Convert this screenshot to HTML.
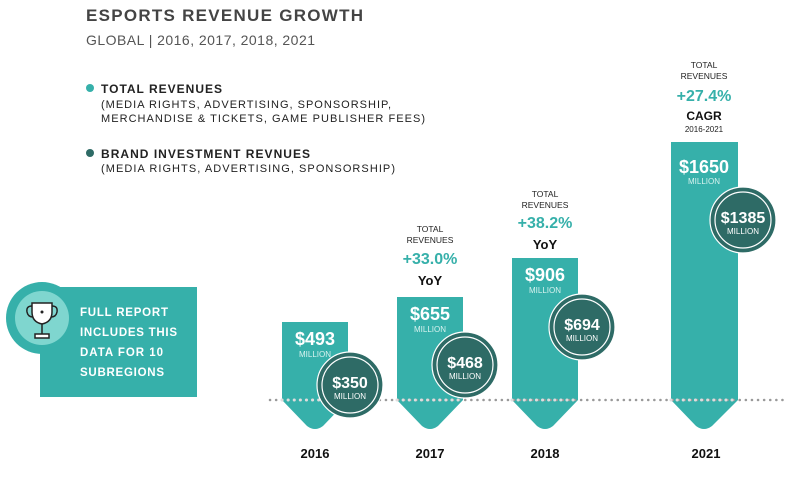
<!DOCTYPE html>
<html><head><meta charset="utf-8"><style>
body{margin:0;background:#fff;width:786px;height:472px;overflow:hidden}
svg{font-family:"Liberation Sans",sans-serif}
</style></head><body>
<svg width="786" height="472" viewBox="0 0 786 472">
<text x="86" y="21" font-size="17" font-weight="bold" fill="#444" textLength="277">ESPORTS REVENUE GROWTH</text>
<text x="86" y="45" font-size="14" fill="#555" textLength="229">GLOBAL | 2016, 2017, 2018, 2021</text>
<circle cx="90" cy="88" r="4" fill="#36b0aa"/>
<text x="101" y="93" font-size="12" font-weight="bold" fill="#222" textLength="121">TOTAL REVENUES</text>
<text x="101" y="108" font-size="11" fill="#222" textLength="290">(MEDIA RIGHTS, ADVERTISING, SPONSORSHIP,</text>
<text x="101" y="122" font-size="11" fill="#222" textLength="324">MERCHANDISE &amp; TICKETS, GAME PUBLISHER FEES)</text>
<circle cx="90" cy="153" r="4" fill="#2e6b66"/>
<text x="101" y="158" font-size="12" font-weight="bold" fill="#222" textLength="209">BRAND INVESTMENT REVNUES</text>
<text x="101" y="172" font-size="11" fill="#222" textLength="294">(MEDIA RIGHTS, ADVERTISING, SPONSORSHIP)</text>

<!-- card -->
<rect x="40" y="287" width="157" height="110" fill="#36b0aa"/>
<circle cx="42" cy="318" r="36" fill="#36b0aa"/>
<circle cx="42" cy="318" r="27" fill="#7fd6cf"/>
<path d="M32 303 h20 v9 q0 10 -10 12 q-10 -2 -10 -12z" fill="#fff" stroke="#222" stroke-width="1.5"/>
<path d="M32 306 q-6 0 -5 6 q1 5 6 5 M52 306 q6 0 5 6 q-1 5 -6 5" fill="none" stroke="#222" stroke-width="1.5"/>
<line x1="42" y1="324" x2="42" y2="334" stroke="#222" stroke-width="1.5"/>
<rect x="35" y="334" width="14" height="4" fill="#fff" stroke="#222" stroke-width="1.5"/>
<circle cx="42" cy="312" r="1.5" fill="#222"/>
<g font-size="11.5" font-weight="bold" fill="#fff">
<text x="80" y="316" textLength="88">FULL REPORT</text>
<text x="80" y="336" textLength="97">INCLUDES THIS</text>
<text x="80" y="356" textLength="83">DATA FOR 10</text>
<text x="80" y="376" textLength="84">SUBREGIONS</text>
</g>

<!-- bars -->
<g fill="#36b0aa">
<path d="M282 322 H348 V400 L323 426 Q315 432 307 426 L282 400Z"/>
<path d="M397 297 H463 V400 L438 426 Q430 432 422 426 L397 400Z"/>
<path d="M512 258 H578 V400 L553 426 Q545 432 537 426 L512 400Z"/>
<path d="M671 142 H738 V400 L712 426 Q704 432 696 426 L671 400Z"/>
</g>
<line x1="270" y1="400" x2="786" y2="400" stroke="#999" stroke-width="2.5" stroke-dasharray="0.1 6" stroke-linecap="round"/>
<line x1="282" y1="400" x2="348" y2="400" stroke="#ddd" stroke-width="3" stroke-dasharray="0.1 6" stroke-linecap="round"/>
<line x1="397" y1="400" x2="463" y2="400" stroke="#ddd" stroke-width="3" stroke-dasharray="0.1 6" stroke-linecap="round"/>
<line x1="512" y1="400" x2="578" y2="400" stroke="#ddd" stroke-width="3" stroke-dasharray="0.1 6" stroke-linecap="round"/>
<line x1="671" y1="400" x2="738" y2="400" stroke="#ddd" stroke-width="3" stroke-dasharray="0.1 6" stroke-linecap="round"/>

<g text-anchor="middle" fill="#fff">
<text x="315" y="345" font-size="18" font-weight="bold">$493</text><text x="315" y="357" font-size="8" fill="#d8f2ef">MILLION</text>
<text x="430" y="320" font-size="18" font-weight="bold">$655</text><text x="430" y="332" font-size="8" fill="#d8f2ef">MILLION</text>
<text x="545" y="281" font-size="18" font-weight="bold">$906</text><text x="545" y="293" font-size="8" fill="#d8f2ef">MILLION</text>
<text x="704" y="173" font-size="18" font-weight="bold">$1650</text><text x="704" y="184" font-size="8" fill="#d8f2ef">MILLION</text>
</g>

<g fill="#2e6b66" stroke="#fff" stroke-width="1.2">
<circle cx="350" cy="385" r="33"/><circle cx="350" cy="385" r="28" fill="none"/>
<circle cx="465" cy="365" r="33"/><circle cx="465" cy="365" r="28" fill="none"/>
<circle cx="582" cy="327" r="33"/><circle cx="582" cy="327" r="28" fill="none"/>
<circle cx="743" cy="220" r="33"/><circle cx="743" cy="220" r="28" fill="none"/>
</g>
<g text-anchor="middle" fill="#fff">
<text x="350" y="388" font-size="16" font-weight="bold">$350</text><text x="350" y="399" font-size="8">MILLION</text>
<text x="465" y="368" font-size="16" font-weight="bold">$468</text><text x="465" y="379" font-size="8">MILLION</text>
<text x="582" y="330" font-size="16" font-weight="bold">$694</text><text x="582" y="341" font-size="8">MILLION</text>
<text x="743" y="223" font-size="16" font-weight="bold">$1385</text><text x="743" y="234" font-size="8">MILLION</text>
</g>

<g text-anchor="middle">
<text x="430" y="232" font-size="8.5" fill="#222">TOTAL</text>
<text x="430" y="243" font-size="8.5" fill="#222">REVENUES</text>
<text x="430" y="264" font-size="16" font-weight="bold" fill="#36b0aa">+33.0%</text>
<text x="430" y="285" font-size="13" font-weight="bold" fill="#111">YoY</text>
<text x="545" y="197" font-size="8.5" fill="#222">TOTAL</text>
<text x="545" y="208" font-size="8.5" fill="#222">REVENUES</text>
<text x="545" y="228" font-size="16" font-weight="bold" fill="#36b0aa">+38.2%</text>
<text x="545" y="249" font-size="13" font-weight="bold" fill="#111">YoY</text>
<text x="704" y="68" font-size="8.5" fill="#222">TOTAL</text>
<text x="704" y="79" font-size="8.5" fill="#222">REVENUES</text>
<text x="704" y="101" font-size="16" font-weight="bold" fill="#36b0aa">+27.4%</text>
<text x="704" y="120" font-size="12" font-weight="bold" fill="#111">CAGR</text>
<text x="704" y="132" font-size="8" fill="#222">2016-2021</text>
</g>
<g text-anchor="middle" font-size="13" font-weight="bold" fill="#111">
<text x="315" y="458">2016</text><text x="430" y="458">2017</text><text x="545" y="458">2018</text><text x="706" y="458">2021</text>
</g>
</svg>
</body></html>
